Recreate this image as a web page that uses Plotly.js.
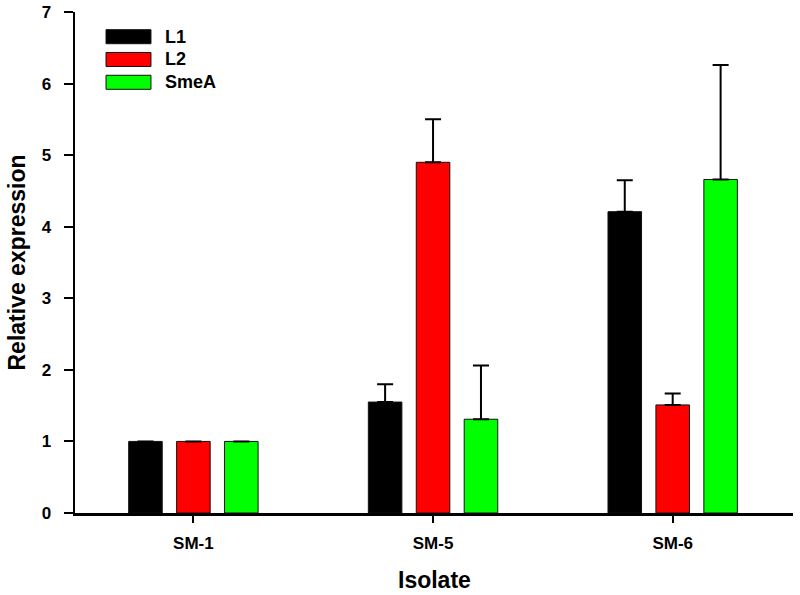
<!DOCTYPE html>
<html>
<head>
<meta charset="utf-8">
<script src="https://cdn.plot.ly/plotly-3.0.1.min.js"></script>
<style>html,body{margin:0;padding:0;background:#fff;}#chart{width:800px;height:595px;}</style>
</head>
<body>
<div id="chart"></div>
<script>
const categories = ["SM-1", "SM-5", "SM-6"];
const seriesNames = ["L1", "L2", "SmeA"];
const seriesColors = ["#000000", "#ff0000", "#00ff00"];
const L1 = [1.0, 1.55, 4.21];
const L2 = [1.0, 4.90, 1.51];
const SmeA = [1.0, 1.31, 4.66];
const L1_err = [null, 0.25, 0.44];
const L2_err = [null, 0.60, 0.16];
const SmeA_err = [null, 0.75, 1.60];
const yTicks = [0, 1, 2, 3, 4, 5, 6, 7];
const xTitle = "Isolate";
const yTitle = "Relative expression";

const values = [L1, L2, SmeA];
const errs = [L1_err, L2_err, SmeA_err];

const traces = seriesNames.map((n, i) => ({
  type: 'bar',
  name: n,
  x: categories,
  y: values[i],
  marker: {color: seriesColors[i], line: {color: '#111', width: 1}},
  error_y: {type: 'data', symmetric: false, array: errs[i], arrayminus: errs[i].map(v => v === null ? null : 0),
            visible: true, color: '#000', thickness: 2, width: 8},
  showlegend: false
}));

const font = 'Liberation Sans, Arial, sans-serif';
const shapes = [];
const annotations = [];
const lgX0 = 0.0432, lgX1 = 0.1058, lgTop = 0.9647, lgH = 0.028, lgStep = 0.0455;
seriesNames.forEach((n, i) => {
  const yt = lgTop - i * lgStep;
  shapes.push({type: 'rect', xref: 'paper', yref: 'paper', x0: lgX0, x1: lgX1, y0: yt - lgH, y1: yt,
               fillcolor: seriesColors[i], line: {color: '#111', width: 1}});
  annotations.push({xref: 'paper', yref: 'paper', x: 0.1226, y: yt - lgH / 2, xanchor: 'left', yanchor: 'middle',
                    text: '<b>' + n + '</b>', showarrow: false, font: {family: font, size: 18, color: '#000'}});
});
annotations.push({xref: 'paper', yref: 'paper', x: 0.5, y: 0, xanchor: 'center', yanchor: 'middle',
                  yshift: -67, borderpad: 0, text: '<b>' + xTitle + '</b>', showarrow: false,
                  font: {family: font, size: 23, color: '#000'}});

const layout = {
  width: 800, height: 595,
  margin: {l: 75, r: 7, t: 12, b: 82},
  paper_bgcolor: '#fff', plot_bgcolor: '#fff',
  barmode: 'group', bargap: 0.4, bargroupgap: 0.3,
  font: {family: font, color: '#000'},
  xaxis: {
    range: [-0.494, 2.502], type: 'category',
    showline: true, linecolor: '#000', linewidth: 2.5,
    ticks: 'outside', ticklen: 7, tickwidth: 2, tickcolor: '#000',
    ticklabelstandoff: 6,
    showgrid: false, zeroline: false,
    tickfont: {family: font, size: 17, color: '#000', weight: 'bold'}
  },
  yaxis: {
    range: [0, 7], tickvals: yTicks, ticktext: yTicks.map(String),
    showline: true, linecolor: '#000', linewidth: 2.5,
    ticks: 'outside', ticklen: 9, tickwidth: 2, tickcolor: '#000',
    ticklabelstandoff: 9,
    showgrid: false, zeroline: false,
    tickfont: {family: font, size: 17, color: '#000', weight: 'bold'},
    title: {text: '<b>' + yTitle + '</b>', font: {family: font, size: 23, color: '#000'}, standoff: 10}
  },
  shapes: shapes,
  annotations: annotations
};

Plotly.newPlot('chart', traces, layout, {displayModeBar: false, staticPlot: true});
</script>
</body>
</html>
